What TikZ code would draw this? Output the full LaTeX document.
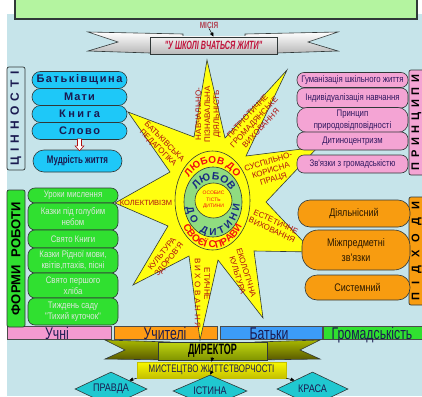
\documentclass[tikz,border=0pt]{standalone}
\usepackage{fontspec}
\setmainfont{Liberation Sans}
\newfontfamily\nA[FakeStretch=0.6]{Liberation Sans}
\newfontfamily\nB[FakeStretch=0.72]{Liberation Sans}
\newfontfamily\nC[FakeStretch=0.82]{Liberation Sans}
\usetikzlibrary{shapes.geometric,decorations.text,arrows.meta}
\newcommand\fsz[2]{\fontsize{#1}{#2}\selectfont}
\definecolor{bgc}{HTML}{C6E4EA}
\definecolor{linec}{HTML}{303838}
\definecolor{topgreen}{HTML}{B4F4A0}
\definecolor{cyanc}{HTML}{1EC8F8}
\definecolor{greenc}{HTML}{30E030}
\definecolor{pinkc}{HTML}{F4A4D4}
\definecolor{orangec}{HTML}{F89C10}
\definecolor{starc}{HTML}{FFFF10}
\definecolor{ringg}{HTML}{90DC80}
\definecolor{navy}{HTML}{1A1A50}
\definecolor{rayred}{HTML}{B01010}
\definecolor{lovered}{HTML}{F01010}
\definecolor{ringnavy}{HTML}{1A2A80}
\definecolor{crimson}{HTML}{C0143C}
\definecolor{misiac}{HTML}{B04050}
\definecolor{pinktext}{HTML}{301860}
\definecolor{greentext}{HTML}{DDE6DD}
\definecolor{orangetext}{HTML}{2A1800}
\definecolor{barpink}{HTML}{F49AD0}
\definecolor{barorange}{HTML}{FF9C14}
\definecolor{barblue}{HTML}{3C9CF8}
\definecolor{bargreen}{HTML}{30E030}
\definecolor{diamc}{HTML}{20C8D0}
\definecolor{oliveA}{HTML}{A8B800}
\definecolor{oliveB}{HTML}{585800}
\definecolor{oliveC}{HTML}{C0D410}
\definecolor{oliveD}{HTML}{809400}
\definecolor{yelA}{HTML}{F8F800}
\definecolor{yelB}{HTML}{C4C000}
\begin{document}
\begin{tikzpicture}[x=1pt,y=-1pt,
  pill/.style={draw=linec, line width=0.6pt, inner sep=0pt, align=center},
  cyanp/.style={pill, fill=cyanc, font=\bfseries\fsz{11}{13}, text=navy, minimum width=95pt, minimum height=17pt, rounded corners=8.5pt},
  greenp/.style={pill, fill=greenc, font=\nC\fsz{9.5}{11}, text=greentext, minimum width=90pt, rounded corners=7pt},
  pinkp/.style={pill, fill=pinkc, font=\nC\fsz{9.5}{11.5}, text=pinktext, minimum width=111pt, rounded corners=7pt},
  orangep/.style={pill, fill=orangec, font=\nC\fsz{11}{15}, text=orangetext, rounded corners=12pt},
  vbox/.style={draw=linec, line width=0.7pt, rounded corners=2pt, inner sep=0pt, rotate=90, align=center, font=\bfseries\fsz{12}{14}},
  raytext/.style={font=\fsz{8}{9}, text=rayred, align=center, inner sep=0pt},
  bar/.style={draw=gray!60!black, line width=0.5pt, inner sep=0pt},
  bartext/.style={font=\nB\fsz{17}{19}, text=navy, inner sep=0pt, anchor=base},
  arr/.style={-{Triangle[length=4pt,width=3.5pt]}, line width=0.5pt, black},
  diam/.style={diamond, aspect=2.1, draw=linec, line width=0.6pt, fill=diamc, inner sep=0pt, font=\nC\fsz{11}{13}, text=navy},
  starline/.style={draw=linec, line width=0.6pt},
  wing/.style={draw=linec, line width=0.6pt}
]
\useasboundingbox (0,0) rectangle (422,396);
\clip (0,0) rectangle (422,396);
% background
\fill[white] (0,0) rectangle (422,396);
\fill[bgc] (7,14) rectangle (422,396);
% top green box
\draw[fill=topgreen, draw=linec, line width=1.6pt] (15,-4) rectangle (417,19);

% mission banner
\draw[wing, top color=white, bottom color=gray!55] (88,32) -- (183,34) -- (183,52) -- (150,53) -- (88,51) -- (118,42) -- cycle;
\draw[wing, top color=white, bottom color=gray!55] (338,32) -- (245,34) -- (245,52) -- (277,53) -- (338,51) -- (308,42) -- cycle;
\node[draw=linec, line width=0.8pt, top color=gray!10, bottom color=gray!55, minimum width=127pt, minimum height=17pt, inner sep=0pt, font=\nA\bfseries\itshape\fsz{12}{14}, text=crimson] (bannerrect) at (213.5,45.5) {"У ШКОЛІ ВЧАТЬСЯ ЖИТИ"};
\node[font=\nB\bfseries\fsz{9}{10}, text=misiac, inner sep=0pt] (misia) at (209,25) {МІСІЯ};
\draw[arr] (misia.south) -- (bannerrect.north);

% bottom bars
\node[bar, fill=barpink, minimum width=104pt, minimum height=13pt] (b1) at (59,332.5) {};
\node[bar, fill=barorange, minimum width=103pt, minimum height=13pt] (b2) at (165.5,332.5) {};
\node[bar, fill=barblue, minimum width=102pt, minimum height=13pt] (b3) at (271,332.5) {};
\node[bar, fill=bargreen, minimum width=101pt, minimum height=13pt] (b4) at (373.5,332.5) {};
\node[bartext] (t1) at (57,339.5) {Учні};
\node[bartext] (t2) at (165,339.5) {Учителі};
\node[bartext] (t3) at (269,339.5) {Батьки};
\node[bartext] (t4) at (372,339.5) {Громадськість};

% star
\draw[starline, fill=starc] (207,60) -- (225,138) -- (287,70) -- (246,156) -- (318,147) -- (266,202) -- (313,252) -- (254,251) -- (263,318) -- (218,260) -- (200,340) -- (189,256) -- (133,285) -- (168,226) -- (115,203) -- (170,172) -- (128,112) -- (194,137) -- cycle;
\draw[starline, fill=starc] (212.5,200.5) ellipse [x radius=37.5, y radius=49.5];
\draw[starline, fill=ringg] (213,202) ellipse [x radius=29, y radius=35];
\draw[starline, fill=starc] (213.5,200.5) ellipse [x radius=18.5, y radius=17.5];

% ring texts
\path[decorate, decoration={text along path, text align=center,
  text={|\bfseries\fsz{10}{12}\color{lovered}|ЛЮБОВ ДО}}]
  (212.5,200.5) ++(-145:30 and 37) arc[start angle=-145, end angle=-35, x radius=30, y radius=37];
\path[decorate, decoration={text along path, text align=center,
  text={|\bfseries\fsz{10}{12}\color{lovered}|СВОЄЇ СПРАВИ}}]
  (212.5,200.5) ++(145:35 and 47.5) arc[start angle=145, end angle=35, x radius=35, y radius=47.5];
\path[decorate, decoration={text along path, text align=fit to path,
  text={|\bfseries\fsz{10.5}{12}\color{ringnavy}|ЛЮБОВ}}]
  (213,202) ++(-145:20 and 22) arc[start angle=-145, end angle=-35, x radius=20, y radius=22];
\path[decorate, decoration={text along path, text align=fit to path,
  text={|\bfseries\fsz{10}{12}\color{ringnavy}|ДО ДИТИНИ}}]
  (213,202) ++(170:27 and 33) arc[start angle=170, end angle=5, x radius=27, y radius=33];
\node[font=\fsz{5}{6.5}, text=lovered, align=center, inner sep=0pt] (osob) at (213.5,200) {ОСОБИС\\ТІСТЬ\\ДИТИНИ};

% ray texts
\node[raytext, rotate=90] (r1) at (208,114) {НАВЧАЛЬНО-\\ПІЗНАВАЛЬНА\\ДІЯЛЬНІСТЬ};
\node[raytext, rotate=47] (r2) at (254,122) {ПАТРІОТИЧНЕ\\ГРОМАДЯНСЬКЕ\\ВИХОВАННЯ};
\node[raytext, rotate=17] (r3) at (271,171) {СУСПІЛЬНО-\\КОРИСНА\\ПРАЦЯ};
\node[raytext, rotate=-25] (r4) at (274,226) {ЕСТЕТИЧНЕ\\ВИХОВАННЯ};
\node[raytext, rotate=-73] (r5) at (242,274) {ЕКОЛОГІЧНА\\КУЛЬТУРА};
\node[raytext, rotate=-90] (r6a) at (207,284) {ЕТИЧНЕ};
\node[raytext, rotate=-90] (r6b) at (197.5,293) {\makebox[70pt][s]{В\hfill И\hfill Х\hfill О\hfill В\hfill А\hfill Н\hfill Н\hfill Я}};
\node[raytext, rotate=51] (r7) at (166,257) {КУЛЬТУРА\\ЗДОРОВ'Я};
\node[raytext, font=\fsz{7.5}{9}] (r8) at (146,203) {КОЛЕКТИВІЗМ};
\node[raytext, rotate=-45] (r9) at (161,145) {БАТЬКІВСЬКА\\ПЕДАГОГІКА};

% left: values
\node[vbox, fill=bgc, minimum width=103pt, minimum height=18pt, text=navy] (cin) at (16,118.5) {\makebox[94pt][s]{Ц\hfill І\hfill Н\hfill Н\hfill О\hfill С\hfill Т\hfill І}};
\node[cyanp] (bat) at (79.5,80) {\makebox[86pt][s]{Б\hfill а\hfill т\hfill ь\hfill к\hfill і\hfill в\hfill щ\hfill и\hfill н\hfill а}};
\node[cyanp] (mat) at (79.5,97) {\makebox[31pt][s]{М\hfill а\hfill т\hfill и}};
\node[cyanp] (kny) at (79.5,114) {\makebox[41pt][s]{К\hfill н\hfill и\hfill г\hfill а}};
\node[cyanp] (slo) at (79.5,131) {\makebox[41pt][s]{С\hfill л\hfill о\hfill в\hfill о}};
\node[cyanp, minimum width=89pt, minimum height=22pt, rounded corners=11pt, font=\nB\bfseries\fsz{11}{13}] (mud) at (77.5,161) {Мудрість життя};
\draw[fill=white, draw=rayred, line width=0.6pt] (slo.south) ++(-2,-1) -- ++(0,7) -- ++(-2.5,0) -- ++(4.5,5) -- ++(4.5,-5) -- ++(-2.5,0) -- ++(0,-7) -- cycle;

% left: forms of work
\node[vbox, fill=greenc, minimum width=137pt, minimum height=18pt, text=black, font=\bfseries\fsz{13}{15}] (form) at (16,258.5) {ФОРМИ\hspace{8pt}РОБОТИ};
\node[greenp, minimum height=15pt] (g1) at (73,195.5) {Уроки мислення};
\node[greenp, minimum height=27pt] (g2) at (73,216.5) {Казки під голубим\\небом};
\node[greenp, minimum height=18pt] (g3) at (73,239) {Свято Книги};
\node[greenp, minimum height=25pt] (g4) at (73,260.5) {Казки Рідної мови,\\квітів,птахів, пісні};
\node[greenp, minimum height=25pt] (g5) at (73,285.5) {Свято першого\\хліба};
\node[greenp, minimum height=27pt] (g6) at (73,311.5) {Тиждень саду\\"Тихий куточок"};

% right: principles
\node[vbox, fill=pinkc, minimum width=105pt, minimum height=15pt, text=black, font=\bfseries\fsz{11}{13}] (prin) at (416.5,122.5) {\makebox[96pt][s]{П\hfill Р\hfill И\hfill Н\hfill Ц\hfill И\hfill П\hfill И}};
\node[pinkp, minimum height=15pt] (p1) at (352.5,80) {Гуманізація шкільного життя};
\node[pinkp, minimum height=20pt] (p2) at (352.5,98) {Індивідуалізація навчання};
\node[pinkp, minimum height=25pt, rounded corners=10pt] (p3) at (352.5,120) {Принцип\\природовідповідності};
\node[pinkp, minimum height=18pt] (p4) at (352.5,141) {Дитиноцентризм};
\node[pinkp, minimum height=18pt] (p5) at (352.5,164) {Зв'язки з громадськістю};

% right: approaches
\node[vbox, fill=orangec, minimum width=108pt, minimum height=15pt, text=black, font=\bfseries\fsz{11}{13}] (pidh) at (416.5,251) {\makebox[98pt][s]{П\hfill І\hfill Д\hfill Х\hfill О\hfill Д\hfill И}};
\node[orangep, minimum width=112pt, minimum height=27pt] (o1) at (354,213.5) {Діяльнісний};
\node[orangep, minimum width=108pt, minimum height=40pt, rounded corners=16pt] (o2) at (356,250) {Міжпредметні\\зв'язки};
\node[orangep, minimum width=105pt, minimum height=25pt] (o3) at (357.5,287.5) {Системний};

% director banner
\draw[wing, top color=oliveA, bottom color=oliveB] (105,340) -- (170,342) -- (170,360) -- (105,359) -- (125,350) -- cycle;
\draw[wing, top color=oliveA, bottom color=oliveB] (320,340) -- (255,342) -- (255,360) -- (320,359) -- (300,350) -- cycle;
\node[draw=linec, line width=0.7pt, top color=oliveC, bottom color=oliveD, minimum width=109pt, minimum height=18pt, inner sep=0pt, font=\nA\bfseries\fsz{15}{17}, text=black] (dir) at (212.5,351) {ДИРЕКТОР};
\node[draw=yelB, line width=0.4pt, top color=yelA, bottom color=yelB, minimum width=149pt, minimum height=16pt, inner sep=0pt, font=\nB\fsz{11}{13}, text=navy] (mist) at (211.5,370) {МИСТЕЦТВО ЖИТТЄТВОРЧОСТІ};
\draw[arr] ([yshift=3pt]dir.south) -- (mist.north);

% diamonds
\node[diam, minimum width=72pt, minimum height=34pt] (pravda) at (111,389) {ПРАВДА};
\node[diam, minimum width=74pt, minimum height=32pt] (istyna) at (210,391) {ІСТИНА};
\node[diam, minimum width=71pt, minimum height=34pt] (krasa) at (312.5,389) {КРАСА};
\draw[arr] (mist.south west) -- (pravda.north east);
\draw[arr] (mist.south east) -- (krasa.north west);
\draw[arr] ([yshift=6pt]mist.south) -- (istyna.north);
\end{tikzpicture}
\end{document}
